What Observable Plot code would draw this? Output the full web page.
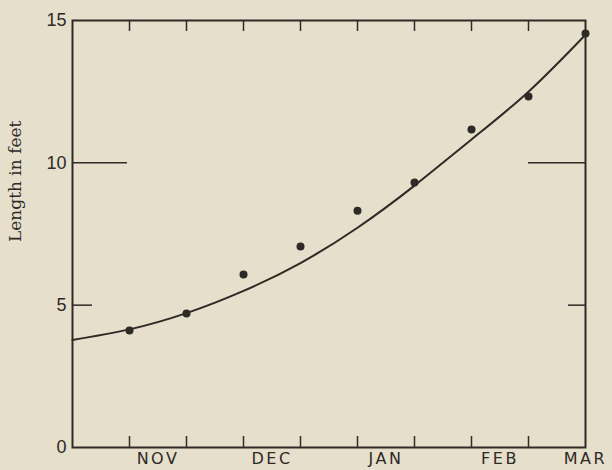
<!DOCTYPE html>
<html>
<head>
<meta charset="utf-8">
<script src="https://cdn.jsdelivr.net/npm/d3@7"></script>
<script src="https://cdn.jsdelivr.net/npm/@observablehq/plot@0.6"></script>
<style>
  html, body { margin: 0; padding: 0; background: #e6dfcc; }
  #chart { width: 612px; height: 470px; }
  .month text { letter-spacing: 2.5px; }
</style>
</head>
<body>
<div id="chart"></div>
<script>
// Observations (x in half-month steps from the left edge of the axis)
const pointX = [1, 2, 3, 4, 5, 6, 7, 8, 9];
const pointLength = [4.11, 4.71, 6.08, 7.06, 8.32, 9.31, 11.17, 12.33, 14.54];

// Fitted growth curve
const curveX = [0, 1, 2, 3, 4, 5, 6, 7, 8, 9];
const curveLength = [3.78, 4.15, 4.72, 5.5, 6.48, 7.72, 9.2, 10.82, 12.5, 14.5];

// Axis ticks and labels
const xTicks = [1, 2, 3, 4, 5, 6, 7, 8];
const monthLabels = ["NOV", "DEC", "JAN", "FEB", "MAR"];
const monthPos = [1.5, 3.5, 5.5, 7.5, 9];
const yTickLabels = [0, 5, 10, 15];
const yLongTicks = [10];
const yShortTicks = [5];
const yTitle = "Length in feet";

const ink = "#2e2a26";

const points = pointX.map((x, i) => ({x, y: pointLength[i]}));
const curve = curveX.map((x, i) => ({x, y: curveLength[i]}));
const months = monthLabels.map((m, i) => ({label: m, x: monthPos[i]}));

const chart = Plot.plot({
  width: 612,
  height: 470,
  marginLeft: 72,
  marginRight: 27,
  marginTop: 20,
  marginBottom: 23,
  style: {background: "transparent", overflow: "visible"},
  x: {domain: [0, 9]},
  y: {domain: [0, 15]},
  marks: [
    Plot.axisX({anchor: "bottom", ticks: xTicks, tickSize: -11, tickFormat: () => "", stroke: ink, strokeWidth: 1.5, label: null}),
    Plot.axisX({anchor: "top", ticks: xTicks, tickSize: -10, tickFormat: () => "", stroke: ink, strokeWidth: 1.5, label: null}),
    Plot.axisY({anchor: "left", ticks: yTickLabels, tickSize: 0, tickPadding: 6, fontSize: 18, fontFamily: "Liberation Sans", fill: ink, label: null}),
    Plot.axisY({anchor: "left", ticks: yLongTicks, tickSize: -55, tickFormat: () => "", stroke: ink, strokeWidth: 1.5, label: null}),
    Plot.axisY({anchor: "left", ticks: yShortTicks, tickSize: -20, tickFormat: () => "", stroke: ink, strokeWidth: 1.5, label: null}),
    Plot.axisY({anchor: "right", ticks: yLongTicks, tickSize: -58, tickFormat: () => "", stroke: ink, strokeWidth: 1.5, label: null}),
    Plot.axisY({anchor: "right", ticks: yShortTicks, tickSize: -18, tickFormat: () => "", stroke: ink, strokeWidth: 1.5, label: null}),
    Plot.frame({stroke: ink, strokeWidth: 2}),
    Plot.line(curve, {x: "x", y: "y", curve: "natural", stroke: ink, strokeWidth: 2}),
    Plot.dot(points, {x: "x", y: "y", r: 4, fill: ink, stroke: "none"}),
    Plot.text(months, {x: "x", frameAnchor: "bottom", lineAnchor: "top", dy: 5, text: "label", fontSize: 16, fontFamily: "DejaVu Sans", fill: ink, className: "month"}),
    Plot.text([yTitle], {frameAnchor: "left", dx: -57, dy: 8, rotate: -90, fontSize: 17, fontFamily: "DejaVu Serif", fill: ink})
  ]
});
document.getElementById("chart").appendChild(chart);
</script>
</body>
</html>
